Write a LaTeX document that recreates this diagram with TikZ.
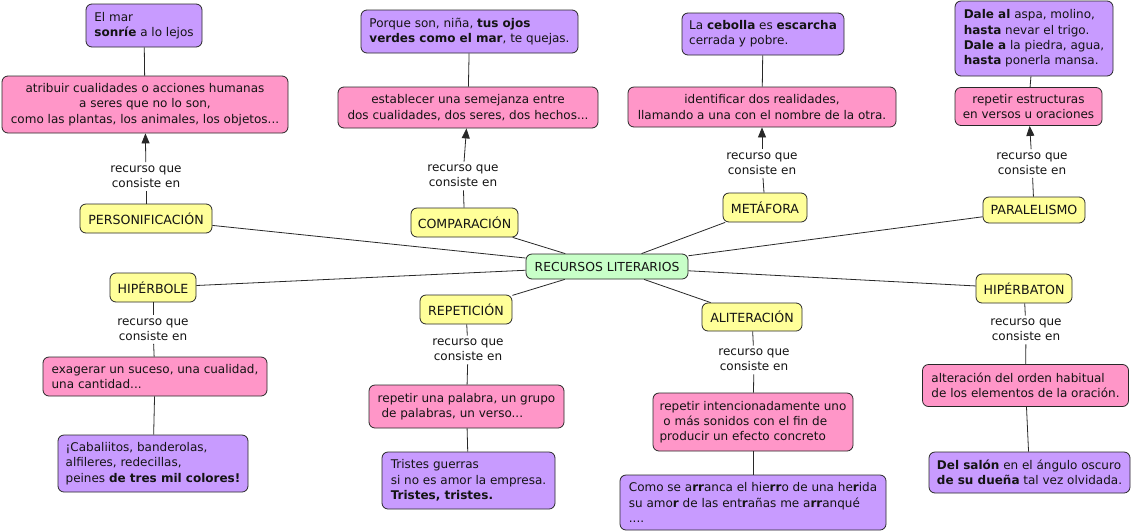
\documentclass[tikz,border=0pt]{standalone}
\usepackage{fontspec}
\setmainfont{DejaVu Sans}
\usetikzlibrary{arrows.meta}
\definecolor{purp}{RGB}{200,155,255}
\definecolor{pinkc}{RGB}{255,150,200}
\definecolor{yel}{RGB}{255,255,153}
\definecolor{grn}{RGB}{200,255,200}
\definecolor{edge}{RGB}{40,40,40}
\definecolor{txt}{RGB}{20,20,20}
\begin{document}
\begin{tikzpicture}[x=1pt,y=-1pt,
  every node/.style={font=\fontsize{12}{15.3}\selectfont, text=txt},
  box/.style={draw=edge, rounded corners=6pt, line width=0.8pt, inner sep=1pt},
  ex/.style={box, fill=purp, align=left},
  def/.style={box, fill=pinkc, align=center},
  defl/.style={box, fill=pinkc, align=left},
  concept/.style={box, fill=yel, align=center, font=\fontsize{12.6}{15}\selectfont},
  central/.style={box, fill=grn, align=center, font=\fontsize{12.4}{15}\selectfont},
  lab/.style={align=center, inner sep=3pt},
  conn/.style={draw=edge, line width=0.8pt},
  arr/.style={conn, -{Triangle[width=8pt,length=10pt]}}
]
\useasboundingbox (0,0) rectangle (1134,531);
\fill[white] (0,0) rectangle (1134,531);

% centre
\node[central, minimum width=162pt, minimum height=25pt] (c) at (607,266.5) {RECURSOS LITERARIOS};

% PERSONIFICACION
\node[ex, minimum width=116pt, minimum height=43pt] (ex1) at (144,25.5) {El mar\\\textbf{sonríe} a lo lejos};
\node[def, minimum width=286pt, minimum height=57pt] (d1) at (145,104.5) {atribuir cualidades o acciones humanas\\a seres que no lo son,\\como las plantas, los animales, los objetos...};
\node[lab] (l1) at (146,176.5) {recurso que\\consiste en};
\node[concept, minimum width=132pt, minimum height=29pt] (k1) at (146,218.5) {PERSONIFICACIÓN};

% COMPARACION
\node[ex, minimum width=217pt, minimum height=43pt] (ex2) at (469.5,31.5) {Porque son, niña, \textbf{tus ojos}\\\textbf{verdes como el mar}, te quejas.};
\node[def, minimum width=260pt, minimum height=41pt] (d2) at (468,107.5) {establecer una semejanza entre\\dos cualidades, dos seres, dos hechos...};
\node[lab] (l2) at (463,176) {recurso que\\consiste en};
\node[concept, minimum width=107pt, minimum height=29pt] (k2) at (464.5,222.5) {COMPARACIÓN};

% METAFORA
\node[ex, minimum width=162pt, minimum height=42pt] (ex3) at (763,34) {La \textbf{cebolla} es \textbf{escarcha}\\cerrada y pobre.};
\node[def, minimum width=268pt, minimum height=40pt] (d3) at (762,107) {identificar dos realidades,\\llamando a una con el nombre de la otra.};
\node[lab] (l3) at (762,163.5) {recurso que\\consiste en};
\node[concept, minimum width=84pt, minimum height=29pt] (k3) at (765,207.5) {METÁFORA};

% PARALELISMO
\node[ex, minimum width=158pt, minimum height=75pt] (ex4) at (1034,38.5) {\textbf{Dale al} aspa, molino,\\\textbf{hasta} nevar el trigo.\\\textbf{Dale a} la piedra, agua,\\\textbf{hasta} ponerla mansa.};
\node[def, minimum width=147pt, minimum height=38pt] (d4) at (1028.5,106.5) {repetir estructuras\\en versos u oraciones};
\node[lab] (l4) at (1032,163.5) {recurso que\\consiste en};
\node[concept, minimum width=102pt, minimum height=26pt] (k4) at (1034,210) {PARALELISMO};

% HIPERBOLE
\node[concept, minimum width=86pt, minimum height=29pt] (k5) at (153,287.5) {HIPÉRBOLE};
\node[lab] (l5) at (153,329.5) {recurso que\\consiste en};
\node[defl, minimum width=224pt, minimum height=39pt] (d5) at (155,376.5) {exagerar un suceso, una cualidad,\\una cantidad...};
\node[ex, minimum width=190pt, minimum height=57pt] (ex5) at (153,463.5) {¡Cabaliitos, banderolas,\\alfileres, redecillas,\\peines \textbf{de tres mil colores!}};

% REPETICION
\node[concept, minimum width=92pt, minimum height=29pt] (k6) at (466,309.5) {REPETICIÓN};
\node[lab] (l6) at (468,350) {recurso que\\consiste en};
\node[defl, minimum width=195pt, minimum height=43pt] (d6) at (466.5,406.5) {repetir una palabra, un grupo\\~de palabras, un verso...};
\node[ex, minimum width=173pt, minimum height=57pt] (ex6) at (468.5,480.5) {Tristes guerras\\si no es amor la empresa.\\\textbf{Tristes, tristes.}};

% ALITERACION
\node[concept, minimum width=100pt, minimum height=28pt] (k7) at (752,317) {ALITERACIÓN};
\node[lab] (l7) at (754,360) {recurso que\\consiste en};
\node[defl, minimum width=200pt, minimum height=58pt] (d7) at (753,422) {repetir intencionadamente uno\\~o más sonidos con el fin de\\producir un efecto concreto};
\node[ex, minimum width=266pt, minimum height=55pt] (ex7) at (753,502.5) {Como se a\textbf{rr}anca el hie\textbf{rr}o de una he\textbf{r}ida\\su amo\textbf{r} de las ent\textbf{r}añas me a\textbf{rr}anqué\\....};

% HIPERBATON
\node[concept, minimum width=96pt, minimum height=29pt] (k8) at (1024,288.5) {HIPÉRBATON};
\node[lab] (l8) at (1026,330) {recurso que\\consiste en};
\node[defl, minimum width=206pt, minimum height=42pt] (d8) at (1025.5,385.5) {alteración del orden habitual\\de los elementos de la oración.};
\node[ex, minimum width=201pt, minimum height=41pt] (ex8) at (1029.5,472.5) {\textbf{Del salón} en el ángulo oscuro\\\textbf{de su dueña} tal vez olvidada.};

% connectors centre -> concepts
\foreach \k in {k1,k2,k3,k4,k5,k6,k7,k8} \draw[conn] (c) -- (\k);

% top group
\foreach \i in {1,2,3,4} {
  \draw[conn] (k\i) -- (l\i);
  \draw[arr] (l\i) -- (d\i);
  \draw[conn] (d\i) -- (ex\i);
}
% bottom group
\foreach \i in {5,6,7,8} {
  \draw[conn] (k\i) -- (l\i);
  \draw[conn] (l\i) -- (d\i);
  \draw[conn] (d\i) -- (ex\i);
}
\end{tikzpicture}
\end{document}
